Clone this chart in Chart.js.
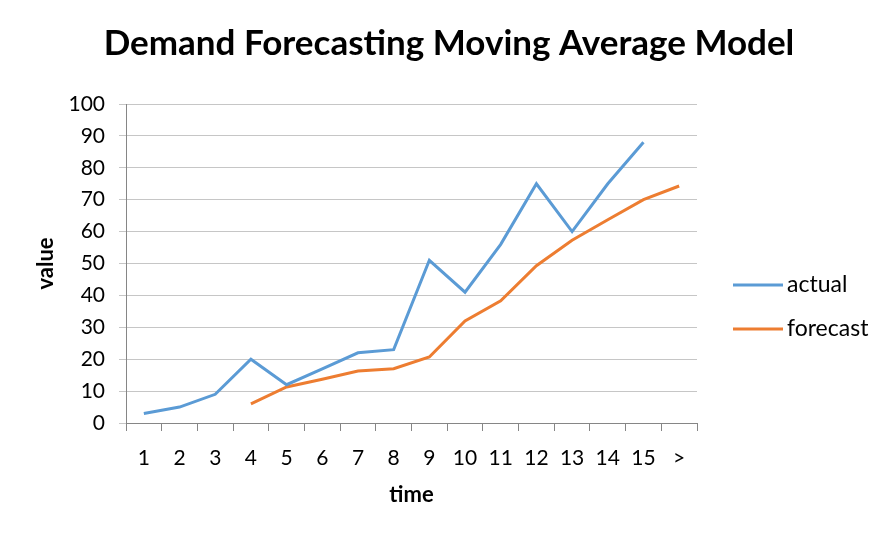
<!DOCTYPE html>
<html><head><meta charset="utf-8">
<script src="https://cdn.jsdelivr.net/npm/chart.js@4/dist/chart.umd.min.js"></script>
<style>html,body{margin:0;padding:0;background:#fff}#wrap{width:896px;height:539px}</style>
</head><body><div id="wrap"><canvas id="c" width="896" height="539"></canvas></div>
<script>
const chartTitle = 'Demand Forecasting Moving Average Model';
const categories = ['1','2','3','4','5','6','7','8','9','10','11','12','13','14','15','>'];
const actual   = [3, 5, 9, 20, 12, 17, 22, 23, 51, 41, 56, 75, 60, 75, 88, null];
const forecast = [null, null, null, 6, 11.3, 13.7, 16.3, 17, 20.7, 32, 38.3, 49.3, 57.3, 63.7, 70, 74.3];
const yTicks = [0,10,20,30,40,50,60,70,80,90,100];

const FONT = 'Lato, "Open Sans", sans-serif';
const BLUE = '#5B9BD5', ORANGE = '#ED7D31';

const overlay = {
  id: 'overlay',
  afterDraw(chart) {
    const ctx = chart.ctx;
    ctx.save();
    ctx.fillStyle = '#000';
    ctx.font = 'bold 35px ' + FONT;
    ctx.textAlign = 'center';
    ctx.textBaseline = 'middle';
    ctx.fillText(chartTitle, 449, 44);
    // legend
    const items = chart.data.datasets;
    const ys = [285, 329];
    ctx.font = '23px ' + FONT;
    ctx.textAlign = 'left';
    items.forEach((ds, i) => {
      ctx.strokeStyle = ds.borderColor;
      ctx.lineWidth = 3;
      ctx.beginPath();
      ctx.moveTo(733, ys[i]); ctx.lineTo(783, ys[i]);
      ctx.stroke();
      ctx.fillStyle = '#000';
      ctx.fillText(ds.label, 787, ys[i]);
    });
    ctx.restore();
  }
};

new Chart(document.getElementById('c'), {
  type: 'line',
  data: {
    labels: categories,
    datasets: [
      {label: 'actual', data: actual, borderColor: BLUE, backgroundColor: BLUE, borderWidth: 3, pointRadius: 0, tension: 0, spanGaps: false},
      {label: 'forecast', data: forecast, borderColor: ORANGE, backgroundColor: ORANGE, borderWidth: 3, pointRadius: 0, tension: 0, spanGaps: false}
    ]
  },
  options: {
    responsive: false,
    animation: false,
    layout: {padding: {left: 33, top: 104, right: 199, bottom: 31}},
    plugins: {legend: {display: false}, title: {display: false}, tooltip: {enabled: false}},
    scales: {
      x: {
        offset: true,
        grid: {drawOnChartArea: false, drawTicks: true, tickLength: 8, color: '#868686', offset: true},
        border: {color: '#868686', width: 1},
        ticks: {color: '#000', font: {family: FONT, size: 21}, padding: 15, maxRotation: 0, autoSkip: false},
        title: {display: true, text: 'time', color: '#000', font: {family: FONT, size: 22, weight: 'bold'}, padding: {top: 0, bottom: 0}},
        afterFit(s) { s.height = 85; }
      },
      y: {
        min: 0, max: 100,
        afterBuildTicks(s) { s.ticks = yTicks.map(v => ({value: v})); },
        grid: {color: '#c6c6c6', tickLength: 7, drawTicks: true},
        border: {color: '#868686', width: 1},
        ticks: {color: '#000', font: {family: FONT, size: 21}, padding: 14},
        title: {display: true, text: 'value', color: '#000', font: {family: FONT, size: 22, weight: 'bold'}, padding: 0},
        afterFit(s) { s.width = 93; }
      }
    }
  },
  plugins: [overlay]
});
</script></body></html>
